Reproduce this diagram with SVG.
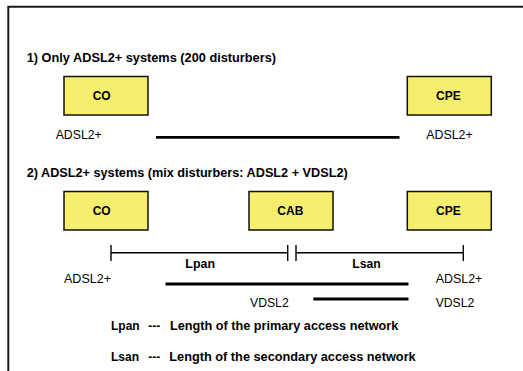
<svg xmlns="http://www.w3.org/2000/svg" width="523" height="371" viewBox="0 0 523 371">
<style>
  .box { fill: #F6EF6E; stroke: #111; stroke-width: 1.5; }
  .lbl { font-family: "Liberation Sans", Arial, sans-serif; font-size: 12px; font-weight: bold; fill: #000; }
  .txt { font-family: "Liberation Sans", Arial, sans-serif; font-size: 12px; fill: #000; }
  .thick { stroke: #000; stroke-width: 2.8; fill: none; }
  .dim { stroke: #000; stroke-width: 1.4; fill: none; }
  .frame { stroke: #1a1a1a; stroke-width: 2; fill: none; }
</style>
<rect x="0" y="0" width="523" height="371" fill="#fff"/>
<path class="frame" d="M8.3,372 V6.7 H524"/>

<text class="lbl" x="26.7" y="61.7" textLength="249.3" lengthAdjust="spacingAndGlyphs">1) Only ADSL2+ systems (200 disturbers)</text>
<text class="lbl" x="26.7" y="176.7" textLength="321" lengthAdjust="spacingAndGlyphs">2) ADSL2+ systems (mix disturbers: ADSL2 + VDSL2)</text>

<g id="co1">
  <rect class="box" x="64" y="76.5" width="84" height="38.5"/>
  <text class="lbl" x="92.7" y="99.5">CO</text>
</g>
<g id="cpe1">
  <rect class="box" x="407.3" y="76.5" width="84" height="38.5"/>
  <text class="lbl" x="436" y="99.5">CPE</text>
</g>

<g id="co2">
  <rect class="box" x="64" y="191.5" width="84" height="38.5"/>
  <text class="lbl" x="92.7" y="215">CO</text>
</g>
<g id="cab2">
  <rect class="box" x="249" y="191.5" width="84" height="38.5"/>
  <text class="lbl" x="277.3" y="215">CAB</text>
</g>
<g id="cpe2">
  <rect class="box" x="407.3" y="191.5" width="84" height="38.5"/>
  <text class="lbl" x="436" y="215">CPE</text>
</g>

<g id="connectors">
  <line class="thick" x1="156" y1="137.3" x2="399.5" y2="137.3"/>
  <path class="dim" d="M111,252.7 H287.7 M111,245 V261 M287.7,245 V261"/>
  <path class="dim" d="M296,252.7 H463.3 M296,245 V261 M463.3,245 V261"/>
  <line class="thick" x1="165.5" y1="284" x2="408.5" y2="284"/>
  <line class="thick" x1="313.3" y1="299" x2="408.5" y2="299"/>
</g>

<text class="txt" x="55.7" y="138.5" textLength="46" lengthAdjust="spacingAndGlyphs">ADSL2+</text>
<text class="txt" x="426.3" y="138.5" textLength="46.3" lengthAdjust="spacingAndGlyphs">ADSL2+</text>

<text class="lbl" x="185.3" y="267.7" textLength="29.7" lengthAdjust="spacingAndGlyphs">Lpan</text>
<text class="lbl" x="352.3" y="267.7" textLength="28.4" lengthAdjust="spacingAndGlyphs">Lsan</text>

<text class="txt" x="64" y="283.3" textLength="47" lengthAdjust="spacingAndGlyphs">ADSL2+</text>
<text class="txt" x="435.7" y="283.3" textLength="46.6" lengthAdjust="spacingAndGlyphs">ADSL2+</text>
<text class="txt" x="250" y="306.7" textLength="38.7" lengthAdjust="spacingAndGlyphs">VDSL2</text>
<text class="txt" x="435.7" y="306.7" textLength="38.6" lengthAdjust="spacingAndGlyphs">VDSL2</text>

<text class="lbl" y="330"><tspan x="111">Lpan</tspan><tspan x="148.3">---</tspan><tspan x="170" textLength="228.3" lengthAdjust="spacingAndGlyphs">Length of the primary access network</tspan></text>
<text class="lbl" y="360.7"><tspan x="111">Lsan</tspan><tspan x="148.3">---</tspan><tspan x="169.3" textLength="246.4" lengthAdjust="spacingAndGlyphs">Length of the secondary access network</tspan></text>
</svg>
